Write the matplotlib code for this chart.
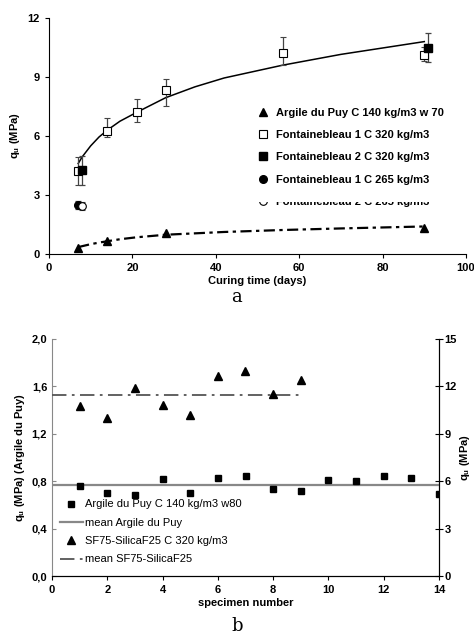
import matplotlib
matplotlib.use("Agg")
import matplotlib.pyplot as plt
from matplotlib.patches import Rectangle

plt.rcParams['font.family'] = ['Liberation Sans', 'DejaVu Sans']
plt.rcParams['font.size'] = 8

# ---- panel a data ----
argile_t = [7, 14, 28, 90]
argile_q = [0.3, 0.65, 1.05, 1.3]

f1_320_t = [7, 14, 21, 28, 56, 90]
f1_320_q = [4.2, 6.25, 7.2, 8.35, 10.2, 10.1]
f1_320_lo = [0.7, 0.3, 0.5, 0.8, 0.6, 0.3]
f1_320_hi = [0.75, 0.65, 0.7, 0.55, 0.85, 0.4]

f2_320_t = [8, 91]
f2_320_q = [4.25, 10.45]
f2_320_lo = [0.75, 0.7]
f2_320_hi = [0.75, 0.8]

f1_265_t = [7]
f1_265_q = [2.5]
f1_265_err = [0.2]

f2_265_t = [8]
f2_265_q = [2.45]
f2_265_err = [0.2]

# trend lines
fit_t = [7, 8, 10, 12, 14, 17, 21, 28, 35, 42, 56, 70, 90]
fit_320 = [4.6, 4.95, 5.5, 5.95, 6.3, 6.75, 7.2, 7.95, 8.5, 8.95, 9.6, 10.15, 10.8]
fit_arg = [0.35, 0.4, 0.5, 0.58, 0.65, 0.75, 0.85, 0.98, 1.05, 1.12, 1.22, 1.3, 1.4]

# ---- panel b data ----
specimen = list(range(1, 15))
argile_b = [0.76, 0.70, 0.68, 0.82, 0.70, 0.83, 0.84, 0.73, 0.72, 0.81, 0.80, 0.84, 0.83, 0.69]
sf_spec = list(range(1, 10))
sf_q = [10.78, 9.98, 11.92, 10.82, 10.2, 12.66, 12.98, 11.55, 12.43]

fig = plt.figure(figsize=(4.74, 6.42), dpi=100)
W, H = 474, 642

def px_axes(l, t, r, b):
    return fig.add_axes([l / W, 1 - b / H, (r - l) / W, (b - t) / H])

# ================= panel a =================
ax = px_axes(49, 18, 466, 254)
ek = dict(ecolor='#444444', elinewidth=0.9, capsize=2.5, capthick=0.9, linestyle='none')
h1 = ax.errorbar(argile_t, argile_q, fmt='^', color='black', ms=5.5, zorder=4, linestyle='none')[0]
h2 = ax.errorbar(f1_320_t, f1_320_q, yerr=[f1_320_lo, f1_320_hi], fmt='s', mfc='white', mec='black',
                 ms=5.5, mew=0.8, zorder=4, **ek)[0]
h3 = ax.errorbar(f2_320_t, f2_320_q, yerr=[f2_320_lo, f2_320_hi], fmt='s', color='black', ms=5.5,
                 zorder=4, **ek)[0]
h4 = ax.errorbar(f1_265_t, f1_265_q, yerr=f1_265_err, fmt='o', color='black', ms=5.5, zorder=4, **ek)[0]
h5 = ax.errorbar(f2_265_t, f2_265_q, yerr=f2_265_err, fmt='o', mfc='white', mec='black', ms=5.5,
                 mew=0.8, zorder=4, **ek)[0]
ax.plot(fit_t, fit_320, color='black', lw=1.1, zorder=3)
ax.plot(fit_t, fit_arg, color='black', lw=1.6, dashes=(5, 2, 1.5, 2), zorder=3)

ax.set_xlim(0, 100)
ax.set_ylim(0, 12)
ax.set_xticks(range(0, 101, 20))
ax.set_yticks(range(0, 13, 3))
for s in ['top', 'right']:
    ax.spines[s].set_visible(False)
ax.tick_params(direction='out', length=3, width=0.8)
for lab in ax.get_xticklabels() + ax.get_yticklabels():
    lab.set_fontweight('bold')
ax.set_xlabel('Curing time (days)', fontweight='bold', labelpad=2)
ax.set_ylabel('q$_\\mathregular{u}$ (MPa)', fontweight='bold', labelpad=4)

leg = ax.legend([h1, h2, h3, h4, h5],
                ['Argile du Puy C 140 kg/m3 w 70', 'Fontainebleau 1 C 320 kg/m3',
                 'Fontainebleau 2 C 320 kg/m3', 'Fontainebleau 1 C 265 kg/m3',
                 'Fontainebleau 2 C 265 kg/m3'],
                loc='upper left', bbox_to_anchor=(0.49, 0.638), frameon=False,
                prop={'weight': 'bold', 'size': 8}, labelspacing=1.1, handletextpad=0.6,
                handlelength=1.0, borderaxespad=0)
leg.set_zorder(5)
# the last legend entry is cut off in the original
ax.add_patch(Rectangle((0.48, 0.222), 0.52, 0.05, transform=ax.transAxes, facecolor='white',
                       edgecolor='none', zorder=6, clip_on=False))

fig.text(237 / W, 1 - 297 / H, 'a', ha='center', va='center', family='DejaVu Serif', fontsize=13)

# ================= panel b =================
bx = px_axes(52, 339, 439, 576)
bx2 = bx.twinx()
hs = bx.plot(specimen, argile_b, 's', color='black', ms=5, zorder=4)[0]
mean_a = sum(argile_b) / len(argile_b)
hm = bx.axhline(mean_a, color='#888888', lw=1.6, zorder=3)
ht = bx2.plot(sf_spec, sf_q, '^', color='black', ms=5.5, zorder=4)[0]
mean_sf = sum(sf_q) / len(sf_q)
hd = bx2.plot([0, 9], [mean_sf, mean_sf], color='#555555', lw=1.3, dashes=(8, 3, 1.5, 3), zorder=3)[0]

bx.set_xlim(0, 14)
bx.set_ylim(0, 2.0)
bx2.set_ylim(0, 15)
bx.set_xticks(range(0, 15, 2))
bx.set_yticks([0, 0.4, 0.8, 1.2, 1.6, 2.0])
bx.set_yticklabels(['0,0', '0,4', '0,8', '1,2', '1,6', '2,0'])
bx2.set_yticks(range(0, 16, 3))
for a in (bx, bx2):
    a.spines['top'].set_visible(False)
bx.spines['left'].set_color('#888888')
bx2.spines['left'].set_visible(False)
bx.tick_params(axis='y', direction='in', length=3, color='#888888')
bx.tick_params(axis='x', direction='out', length=3)
bx2.tick_params(axis='y', direction='inout', length=6, pad=1)
for lab in bx.get_xticklabels() + bx.get_yticklabels() + bx2.get_yticklabels():
    lab.set_fontweight('bold')
bx.set_xlabel('specimen number', fontweight='bold', labelpad=2)
bx.set_ylabel('q$_\\mathregular{u}$ (MPa) (Argile du Puy)', fontweight='bold', labelpad=3)
bx2.set_ylabel('q$_\\mathregular{u}$ (MPa)', fontweight='bold', labelpad=1)

lb = bx.legend([hs, hm, ht, hd],
               ['Argile du Puy C 140 kg/m3 w80', 'mean Argile du Puy',
                'SF75-SilicaF25 C 320 kg/m3', 'mean SF75-SilicaF25'],
               loc='lower left', bbox_to_anchor=(0.01, 0.03), frameon=False, fontsize=8,
               labelspacing=0.75, handletextpad=0.2, handlelength=2.0, borderaxespad=0)
lb.set_zorder(5)

fig.text(237 / W, 1 - 626 / H, 'b', ha='center', va='center', family='DejaVu Serif', fontsize=13)

fig.savefig('out.png', dpi=100)
